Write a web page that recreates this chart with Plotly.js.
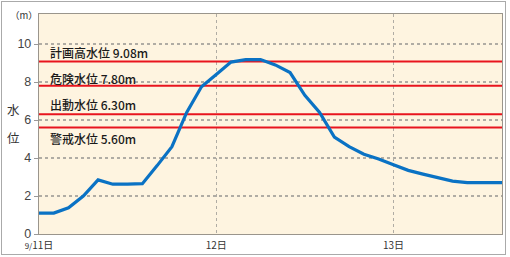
<!DOCTYPE html>
<html><head><meta charset="utf-8">
<script src="https://cdn.plot.ly/plotly-3.0.1.min.js"></script>
<style>
body{margin:0;background:#fff;}
#wrap{position:relative;width:510px;height:257px;}
#chart{width:510px;height:257px;}
#frame{position:absolute;left:1px;top:1px;width:503px;height:252px;border:1.5px solid #aaa;pointer-events:none;}
</style></head>
<body>
<div id="wrap"><div id="chart"></div><div id="frame"></div></div>
<script>
// hours from 9/11 0:00
const hours = [0,2,4,6,8,10,12,14,16,18,20,22,24,26,28,30,32,34,36,38,40,42,44,46,48,50,52,54,56,58,60,62,62.7];
const level = [1.1,1.1,1.38,2.0,2.85,2.62,2.62,2.65,3.6,4.6,6.4,7.75,8.4,9.05,9.18,9.18,8.9,8.5,7.3,6.4,5.1,4.6,4.2,3.95,3.65,3.35,3.15,2.95,2.78,2.7,2.7,2.7,2.7];
const thresholdNames = ['計画高水位 9.08m','危険水位 7.80m','出動水位 6.30m','警戒水位 5.60m'];
const thresholdValues = [9.08,7.80,6.30,5.60];
const thresholdLabelY = [9.55,8.2,6.8,5.05];
const tickVals = [0,24,48];
const tickText = ['<span style="font-size:8px">9/</span>11日','12日','13日'];
const xMax = 62.7, yMax = 11.58;

const traces = thresholdValues.map(v => ({
  x:[0,xMax], y:[v,v], mode:'lines', line:{color:'#e8141e',width:2}, hoverinfo:'skip', showlegend:false
}));
traces.push({x:hours, y:level, mode:'lines', line:{color:'#0a72c4',width:3.2}, showlegend:false});

const annotations = thresholdNames.map((t,i)=>({
  x:1.2, y:thresholdLabelY[i], xref:'x', yref:'y', text:t, showarrow:false, xanchor:'left', yanchor:'middle',
  font:{family:'Noto Sans CJK JP, sans-serif', size:12, color:'#1a1a1a', weight:500}
}));
const extra = [
  {text:'水', px:13, py:109, size:12.5},
  {text:'位', px:13, py:137, size:12.5},
  {text:'（m）', px:24, py:14.5, size:9.5}
];
const L=39,R=8,T=14,B=23,W=510,H=257;
extra.forEach(e=>{
  annotations.push({x:(e.px-L)/(W-L-R), y:1-(e.py-T)/(H-T-B), xref:'paper', yref:'paper', text:e.text, showarrow:false,
    xanchor:'center', yanchor:'middle', font:{family:'Noto Sans CJK JP, sans-serif', size:e.size, color:'#333'}});
});

const layout = {
  width:W, height:H, margin:{l:L,r:R,t:T,b:B,pad:0},
  paper_bgcolor:'#fff', plot_bgcolor:'#fef4e0',
  xaxis:{range:[0,xMax], tickvals:tickVals, ticktext:tickText, showgrid:true, gridcolor:'#b0aca4', griddash:'dot', gridwidth:1.3,
    showline:true, mirror:true, linecolor:'#9a958c', linewidth:1.2, ticks:'', zeroline:false, ticklabelstandoff:2,
    tickfont:{family:'Noto Sans CJK JP, sans-serif', size:10, color:'#333'}, fixedrange:true},
  yaxis:{range:[0,yMax], dtick:2, tick0:0, showgrid:true, gridcolor:'#b0aca4', griddash:'dot', gridwidth:1.3,
    showline:true, mirror:true, linecolor:'#9a958c', linewidth:1.2, ticks:'outside', ticklen:4, tickcolor:'#999', zeroline:false,
    tickfont:{family:'Liberation Sans, Arial, sans-serif', size:12.5, color:'#444'}, fixedrange:true},
  annotations:annotations
};
Plotly.newPlot('chart', traces, layout, {displayModeBar:false, staticPlot:true});
</script>
</body></html>
